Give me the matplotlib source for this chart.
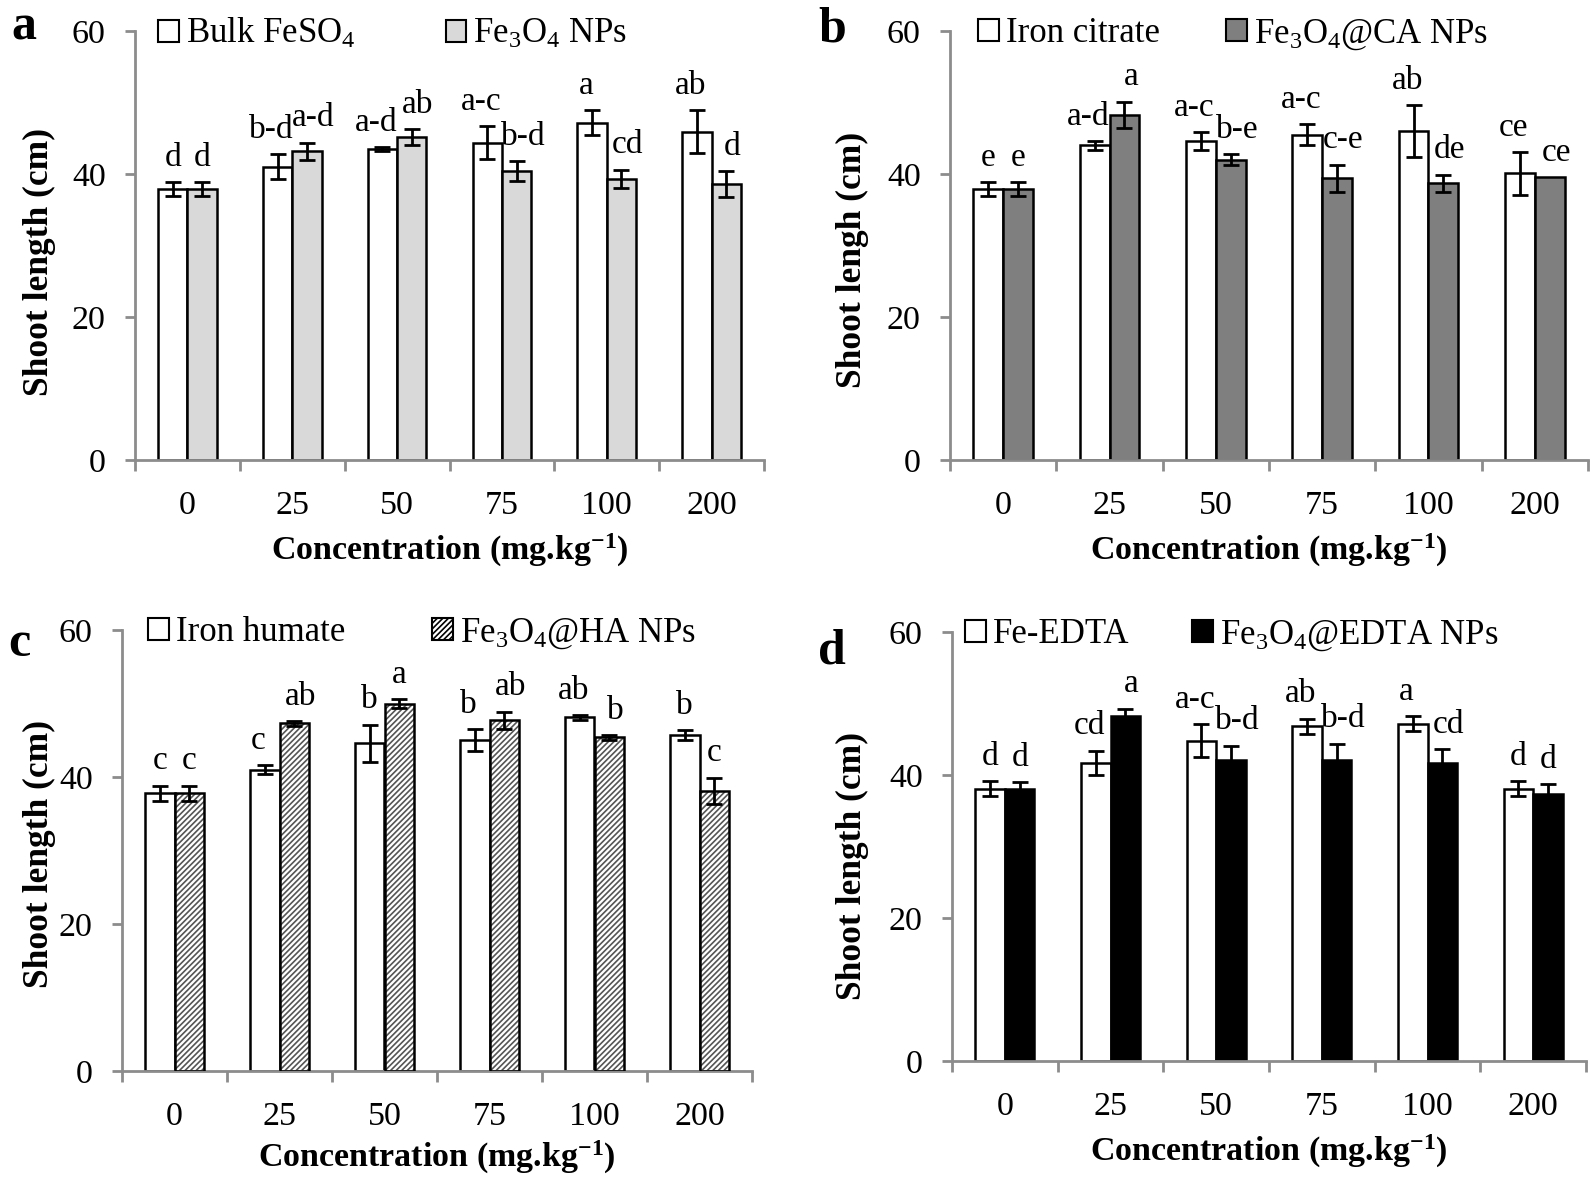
import matplotlib
matplotlib.use("Agg")
import matplotlib.pyplot as plt
import numpy as np
from matplotlib.patches import Patch

plt.rcParams['font.family'] = ['Liberation Serif', 'DejaVu Serif']
plt.rcParams['mathtext.fontset'] = 'custom'
plt.rcParams['mathtext.rm'] = 'Liberation Serif'
plt.rcParams['mathtext.it'] = 'Liberation Serif:italic'
plt.rcParams['mathtext.bf'] = 'Liberation Serif:bold'
plt.rcParams['hatch.linewidth'] = 1.2

categories = ["0", "25", "50", "75", "100", "200"]

# Panel a
a_names = ["Bulk FeSO$_4$", "Fe$_3$O$_4$ NPs"]
a_bulk = [37.9, 41.0, 43.5, 44.4, 47.2, 45.9]
a_bulk_err = [1.0, 1.75, 0.3, 2.3, 1.7, 3.0]
a_np = [37.9, 43.2, 45.2, 40.4, 39.3, 38.6]
a_np_err = [1.0, 1.2, 1.1, 1.4, 1.3, 1.75]
a_bulk_lab = ["d", "b-d", "a-d", "a-c", "a", "ab"]
a_np_lab = ["d", "a-d", "ab", "b-d", "cd", "d"]

# Panel b
b_names = ["Iron citrate", "Fe$_3$O$_4$@CA NPs"]
b_bulk = [37.9, 44.0, 44.6, 45.5, 46.0, 40.1]
b_bulk_err = [1.0, 0.6, 1.3, 1.5, 3.6, 3.0]
b_np = [37.9, 48.3, 42.0, 39.4, 38.7, 39.6]
b_np_err = [1.0, 1.8, 0.75, 1.9, 1.2, 0.0]
b_bulk_lab = ["e", "a-d", "a-c", "a-c", "ab", "ce"]
b_np_lab = ["e", "a", "b-e", "c-e", "de", "ce"]

# Panel c
c_names = ["Iron humate", "Fe$_3$O$_4$@HA NPs"]
c_bulk = [37.8, 41.0, 44.6, 45.0, 48.1, 45.7]
c_bulk_err = [1.0, 0.6, 2.5, 1.5, 0.3, 0.65]
c_np = [37.8, 47.3, 50.0, 47.7, 45.4, 38.1]
c_np_err = [1.0, 0.3, 0.55, 1.2, 0.3, 1.8]
c_bulk_lab = ["c", "c", "b", "b", "ab", "b"]
c_np_lab = ["c", "ab", "a", "ab", "b", "c"]

# Panel d
d_names = ["Fe-EDTA", "Fe$_3$O$_4$@EDTA NPs"]
d_bulk = [38.1, 41.7, 44.8, 46.8, 47.2, 38.1]
d_bulk_err = [1.0, 1.7, 2.3, 1.1, 1.0, 1.0]
d_np = [38.1, 48.2, 42.1, 42.1, 41.7, 37.3]
d_np_err = [0.9, 1.1, 2.0, 2.3, 1.9, 1.4]
d_bulk_lab = ["d", "cd", "a-c", "ab", "a", "d"]
d_np_lab = ["d", "a", "b-d", "b-d", "cd", "d"]

W, H = 1594, 1186
fig = plt.figure(figsize=(W / 100, H / 100), dpi=100)

def px_axes(l, r, t, b):
    return fig.add_axes([l / W, 1 - b / H, (r - l) / W, (b - t) / H])

panels = [
    dict(box=(135, 764, 31, 460), letter="a", lpos=(11, 40), names=a_names,
         bulk=a_bulk, be=a_bulk_err, np_=a_np, ne=a_np_err, bl=a_bulk_lab, nl=a_np_lab,
         style=dict(color="#d9d9d9"), ylabel="Shoot length (cm)",
         ylab_xy=(39, 262), xlab_y=550, leg_x=158, colsp=2.6),
    dict(box=(950, 1588, 31, 460), letter="b", lpos=(818, 41), names=b_names,
         bulk=b_bulk, be=b_bulk_err, np_=b_np, ne=b_np_err, bl=b_bulk_lab, nl=b_np_lab,
         style=dict(color="#7f7f7f"), ylabel="Shoot lengh (cm)",
         ylab_xy=(852, 260), xlab_y=550, leg_x=978, colsp=1.9),
    dict(box=(122, 752, 630, 1071), letter="c", lpos=(8, 656), names=c_names,
         bulk=c_bulk, be=c_bulk_err, np_=c_np, ne=c_np_err, bl=c_bulk_lab, nl=c_np_lab,
         style=dict(color="white", hatch="//////"), ylabel="Shoot length (cm)",
         ylab_xy=(39, 854), xlab_y=1157, leg_x=148, colsp=2.5),
    dict(box=(952, 1586, 632, 1061), letter="d", lpos=(818, 663), names=d_names,
         bulk=d_bulk, be=d_bulk_err, np_=d_np, ne=d_np_err, bl=d_bulk_lab, nl=d_np_lab,
         style=dict(color="black"), ylabel="Shoot length (cm)",
         ylab_xy=(852, 866), xlab_y=1151, leg_x=965, colsp=1.8),
]

x = np.arange(len(categories))
bw = 0.28
axis_gray = "#8c8c8c"
FS_TICK = 24.5
FS_LAB = 24
FS_LEG = 25

for p in panels:
    l, r, t, b = p["box"]
    ax = px_axes(l, r, t, b)
    st = p["style"]
    ax.bar(x - bw / 2, p["bulk"], bw, color="white", edgecolor="black", linewidth=1.8, zorder=2)
    if "hatch" in st:
        ax.bar(x + bw / 2, p["np_"], bw, color="white", edgecolor="#555555",
               hatch=st["hatch"], linewidth=0, zorder=2)
        ax.bar(x + bw / 2, p["np_"], bw, fill=False, edgecolor="black", linewidth=1.8, zorder=3)
    else:
        ax.bar(x + bw / 2, p["np_"], bw, color=st["color"], edgecolor="black", linewidth=1.8, zorder=2)
    ax.errorbar(x - bw / 2, p["bulk"], yerr=p["be"], fmt="none", ecolor="black",
                elinewidth=2, capsize=6, capthick=2, zorder=4)
    nz = [i for i, e in enumerate(p["ne"]) if e > 0]
    ax.errorbar(x[nz] + bw / 2, np.array(p["np_"])[nz], yerr=np.array(p["ne"])[nz],
                fmt="none", ecolor="black", elinewidth=2, capsize=6, capthick=2, zorder=4)
    for i in range(len(categories)):
        lb, ln = p["bl"][i], p["nl"][i]
        shift = 0.06 if (len(lb) + len(ln)) >= 3 else 0.0
        ax.text(x[i] - bw / 2 - shift, p["bulk"][i] + p["be"][i] + 1.3, lb,
                ha="center", va="bottom", fontsize=FS_LAB)
        ax.text(x[i] + bw / 2 + shift, p["np_"][i] + p["ne"][i] + 1.3, ln,
                ha="center", va="bottom", fontsize=FS_LAB)
    ax.set_xlim(-0.5, len(categories) - 0.5)
    ax.set_ylim(0, 60)
    ax.set_yticks([0, 20, 40, 60])
    ax.set_xticks(x)
    ax.set_xticklabels(categories)
    ax.set_xticks(np.arange(-0.5, len(categories), 1.0), minor=True)
    ax.tick_params(axis="x", which="major", length=0, labelsize=FS_TICK, pad=22)
    ax.tick_params(axis="x", which="minor", length=8, width=2, color=axis_gray, direction="out")
    ax.tick_params(axis="y", which="major", length=7, width=2, color=axis_gray,
                   direction="out", labelsize=FS_TICK, pad=14)
    for s in ["top", "right"]:
        ax.spines[s].set_visible(False)
    for s in ["left", "bottom"]:
        ax.spines[s].set_color(axis_gray)
        ax.spines[s].set_linewidth(2)
    ax.set_ylabel(p["ylabel"], fontsize=25.5, fontweight="bold")
    yx, yy = p["ylab_xy"]
    ax.yaxis.set_label_coords((yx - l) / (r - l), (b - yy) / (b - t))
    ax.yaxis.label.set_va("center")
    ax.set_xlabel(r"Concentration (mg.kg$^{\mathbf{-1}}$)", fontsize=24.5, fontweight="bold")
    ax.xaxis.set_label_coords(0.5, (b - p["xlab_y"]) / (b - t))
    ax.xaxis.label.set_va("center")
    if "hatch" in st:
        h2 = Patch(facecolor="white", edgecolor="black", hatch=st["hatch"], linewidth=1.5)
    else:
        h2 = Patch(facecolor=st["color"], edgecolor="black", linewidth=1.5)
    h1 = Patch(facecolor="white", edgecolor="black", linewidth=1.5)
    ax.legend([h1, h2], p["names"], loc="upper left",
              bbox_to_anchor=((p["leg_x"] - l) / (r - l), (b - t + 14) / (b - t)), ncol=2,
              frameon=False, fontsize=FS_LEG, handlelength=0.6, handleheight=0.6,
              handletextpad=0.2, columnspacing=p["colsp"], borderaxespad=0, borderpad=0)
    fig.text(p["lpos"][0] / W, 1 - p["lpos"][1] / H, p["letter"], fontsize=36,
             fontweight="bold", ha="left", va="baseline")

fig.savefig("out.png", dpi=100)
